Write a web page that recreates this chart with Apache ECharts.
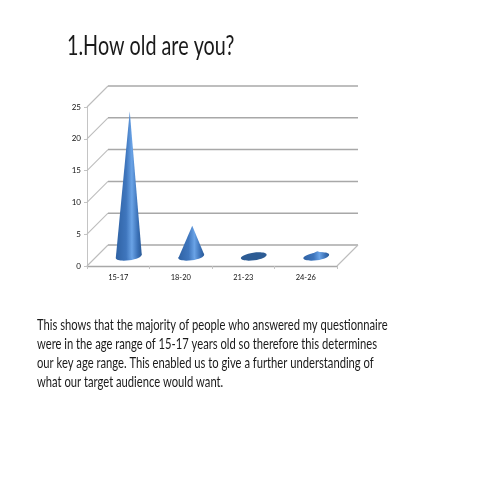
<!DOCTYPE html>
<html><head><meta charset="utf-8">
<style>html,body{margin:0;padding:0;background:#fff}#c{width:480px;height:480px}</style>
<script src="https://cdn.jsdelivr.net/npm/echarts@6/dist/echarts.min.js"></script>
</head><body><div id="c"></div>
<script>
const categories = ['15-17','18-20','21-23','24-26'];
const counts = [23,5,0,1];
const yTicks = [0,5,10,15,20,25];
const heading = '1.How old are you?';
const bodyLines = [
 'This shows that the majority of people who answered my questionnaire',
 'were in the age range of 15-17 years old so therefore this determines',
 'our key age range. This enabled us to give a further understanding of',
 'what our target audience would want.'
];
const FONT = 'Lato,"Open Sans",sans-serif';
const DEPTH = 21;
const chart = echarts.init(document.getElementById('c'));
function wall(params, api){
  const t = api.value(1);
  const p = api.coord([0,t]);
  const x0 = params.coordSys.x, x1 = x0 + params.coordSys.width;
  const ls = {stroke:'#a8a8a8', lineWidth:1.5, fill:null};
  const kids = [
    {type:'line',shape:{x1:x0,y1:p[1],x2:x0+DEPTH,y2:p[1]-DEPTH},style:{stroke:'#bcbcbc',lineWidth:1.1}},
    {type:'line',shape:{x1:x0+DEPTH,y1:p[1]-DEPTH,x2:x1+DEPTH,y2:p[1]-DEPTH},style:ls}
  ];
  if(t===0) kids.push({type:'line',shape:{x1:x1,y1:p[1],x2:x1+DEPTH,y2:p[1]-DEPTH},style:{stroke:'#bcbcbc',lineWidth:1.1}});
  return {type:'group',children:kids};
}
function cone(params, api){
  const i = api.value(0), v = api.value(1);
  const base = api.coord([i,0]), tip = api.coord([i,v]);
  const cx = base[0]+10.5, cy = base[1]-9.5, rx = 13, ry = 3.8, tilt = 0.14;
  const tipY = tip[1]-8.5;
  const grad = new echarts.graphic.LinearGradient(0,0,1,0,[
    {offset:0,color:'#2f62a4'},{offset:0.4,color:'#3f76bd'},
    {offset:0.62,color:'#6aa3e6'},{offset:0.85,color:'#3a70b6'},{offset:1,color:'#2a5a96'}]);
  const kids = [{type:'ellipse',shape:{cx:cx,cy:cy,rx:rx,ry:ry},
    originX:cx,originY:cy,rotation:tilt,
    style:{fill:v===0?'#2d5c94':grad}}];
  if(v>0){
    kids.push({type:'polygon',shape:{points:[[cx+1,tipY],[cx+rx,cy-1.8],[cx-rx,cy+1.8]]},style:{fill:grad}});
  }
  return {type:'group',children:kids};
}
chart.setOption({
  animation:false,
  backgroundColor:'#fff',
  grid:{left:87,top:107,width:250,height:159},
  xAxis:{type:'category',data:categories,
    axisLine:{lineStyle:{color:'#a8a8a8',width:1.3}},
    axisTick:{show:true,length:3,lineStyle:{color:'#c4c4c4'}},
    axisLabel:{fontFamily:FONT,fontSize:7.5,color:'#111',margin:8},splitLine:{show:false}},
  yAxis:{type:'value',min:0,max:25,interval:5,
    axisLine:{show:true,lineStyle:{color:'#c4c4c4',width:1}},
    axisTick:{show:true,length:3,lineStyle:{color:'#c4c4c4'}},
    axisLabel:{fontFamily:FONT,fontSize:8,color:'#111',margin:6},splitLine:{show:false}},
  graphic:[
    {type:'text',x:67,y:34,scaleX:0.76,style:{text:heading,fontFamily:FONT,fontSize:26,fill:'#1a1a1a'}},
    {type:'text',x:37,y:316,scaleX:0.747,style:{
    text:bodyLines.join('\n'),fontFamily:FONT,fontSize:15,lineHeight:18.8,fill:'#1a1a1a'}}],
  series:[
    {type:'custom',name:'wall',renderItem:wall,silent:true,z:1,
      data:yTicks.map(t=>[0,t])},
    {type:'custom',name:'count',renderItem:cone,z:3,
      data:counts.map((v,i)=>[i,v])}
  ]
});
</script></body></html>
